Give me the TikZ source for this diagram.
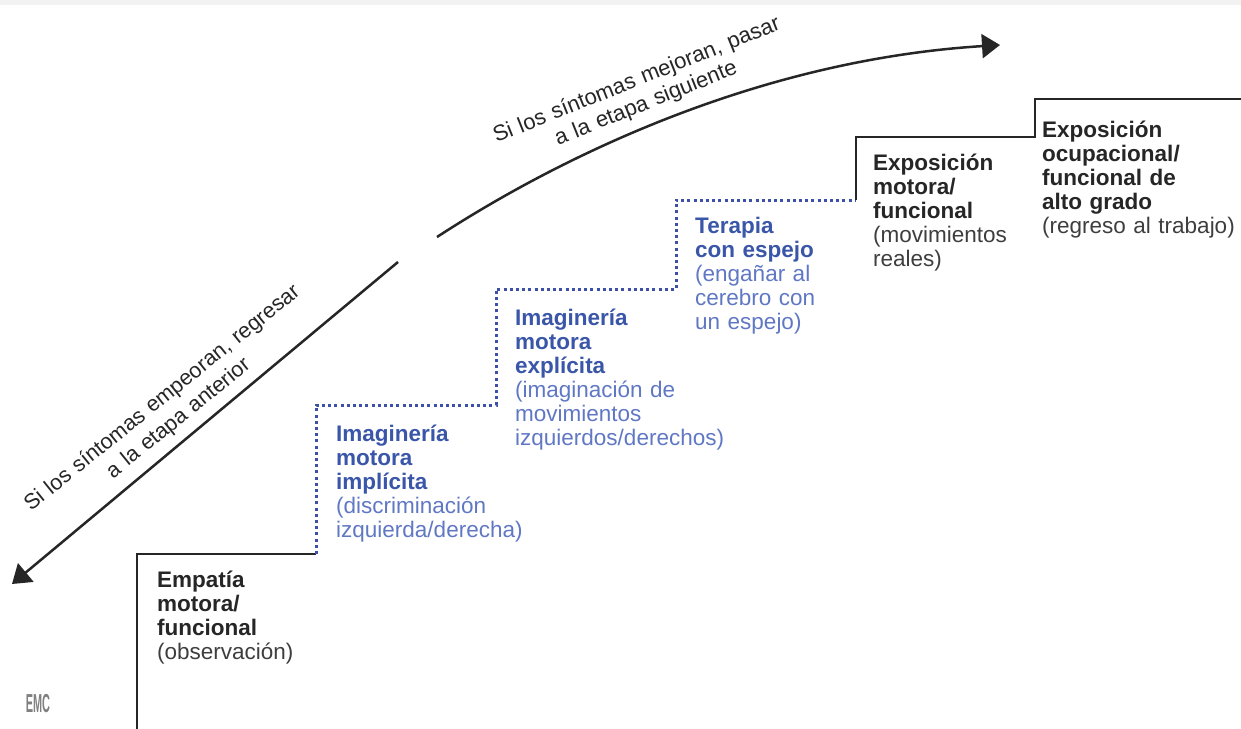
\documentclass[tikz,border=0pt]{standalone}
\usepackage{fontspec}
\usepackage{graphicx}
\setmainfont{Liberation Sans}
\usetikzlibrary{arrows.meta}
\definecolor{ink}{RGB}{38,38,38}
\definecolor{inkl}{RGB}{62,62,62}
\definecolor{blueb}{RGB}{58,86,168}
\definecolor{bluel}{RGB}{96,120,196}
\definecolor{dotc}{RGB}{60,80,168}
\begin{document}
\begin{tikzpicture}[x=1pt,y=-1pt,
  solidline/.style={line width=2.6pt, draw=ink},
  dotline/.style={line width=3pt, draw=dotc, dash pattern=on 3pt off 3.2pt},
  arr/.style={line width=2.5pt, draw=ink, -{Triangle[length=18pt,width=24pt]}},
  stage/.style={anchor=base west, inner sep=0pt, text width=260pt, align=left, font=\fontsize{22.5}{24}\selectfont},
  lbl/.style={inner sep=0pt, text width=400pt, align=center, anchor=base, text=ink}]
\useasboundingbox (0,0) rectangle (1241,728);
\fill[white] (0,0) rectangle (1241,728);
\fill[black!5] (0,0) rectangle (1241,5);

% staircase corners
\coordinate (s0) at (137,732);
\coordinate (s1) at (137,554);
\coordinate (s2) at (316,554);
\coordinate (s3) at (316,405);
\coordinate (s4) at (496,405);
\coordinate (s5) at (496,289);
\coordinate (s6) at (676,289);
\coordinate (s7) at (676,200);
\coordinate (s8) at (856,200);
\coordinate (s9) at (856,137);
\coordinate (s10) at (1035,137);
\coordinate (s11) at (1035,99);
\coordinate (s12) at (1245,99);

\draw[solidline] (s0) -- (s1) -- (s2);
\draw[dotline] (s2) -- (s3) -- (s4) -- (s5) -- (s6) -- (s7) -- (s8);
\draw[solidline] (s8) -- (s9) -- (s10) -- (s11) -- (s12);

% arrows
\coordinate (u1) at (437,237);
\coordinate (u2) at (1000,45);
\coordinate (l1) at (398,262);
\coordinate (l2) at (12,584);
\draw[arr] (u1) .. controls (563,155) and (760,60) .. (u2);
\draw[arr] (l1) -- (l2);

% arrow labels
\node[lbl, rotate=21.8, font=\fontsize{22}{25}\selectfont] (up) at (639,86) {Si los síntomas mejoran, pasar\\ a la etapa siguiente};
\node[lbl, rotate=38.9, font=\fontsize{21.6}{26}\selectfont] (dn) at (166,403) {Si los síntomas empeoran, regresar\\ a la etapa anterior};

% stages
\node[stage, text=ink] (emp) at (157,587) {\textbf{Empatía\\ motora/\\ funcional}\\ {\color{inkl}(observación)}};
\node[stage, text=blueb] (imp) at (336,441) {\textbf{Imaginería\\ motora\\ implícita}\\ {\color{bluel}(discriminación\\ izquierda/derecha)}};
\node[stage, text=blueb] (exp) at (515,325) {\textbf{Imaginería\\ motora\\ explícita}\\ {\color{bluel}(imaginación de\\ movimientos\\ izquierdos/derechos)}};
\node[stage, text=blueb] (ter) at (695,233) {\textbf{Terapia\\ con espejo}\\ {\color{bluel}(engañar al\\ cerebro con\\ un espejo)}};
\node[stage, text=ink] (exm) at (873,170) {\textbf{Exposición\\ motora/\\ funcional}\\ {\color{inkl}(movimientos\\ reales)}};
\node[stage, text=ink] (exo) at (1042,137) {\textbf{Exposición\\ ocupacional/\\ funcional de\\ alto grado}\\ {\color{inkl}(regreso al trabajo)}};

% logo
\node[text=black!50, inner sep=0pt, font=\fontsize{26}{26}\selectfont\bfseries] (logo) at (38,704) {\scalebox{0.42}[1]{EMC}};
\end{tikzpicture}
\end{document}
